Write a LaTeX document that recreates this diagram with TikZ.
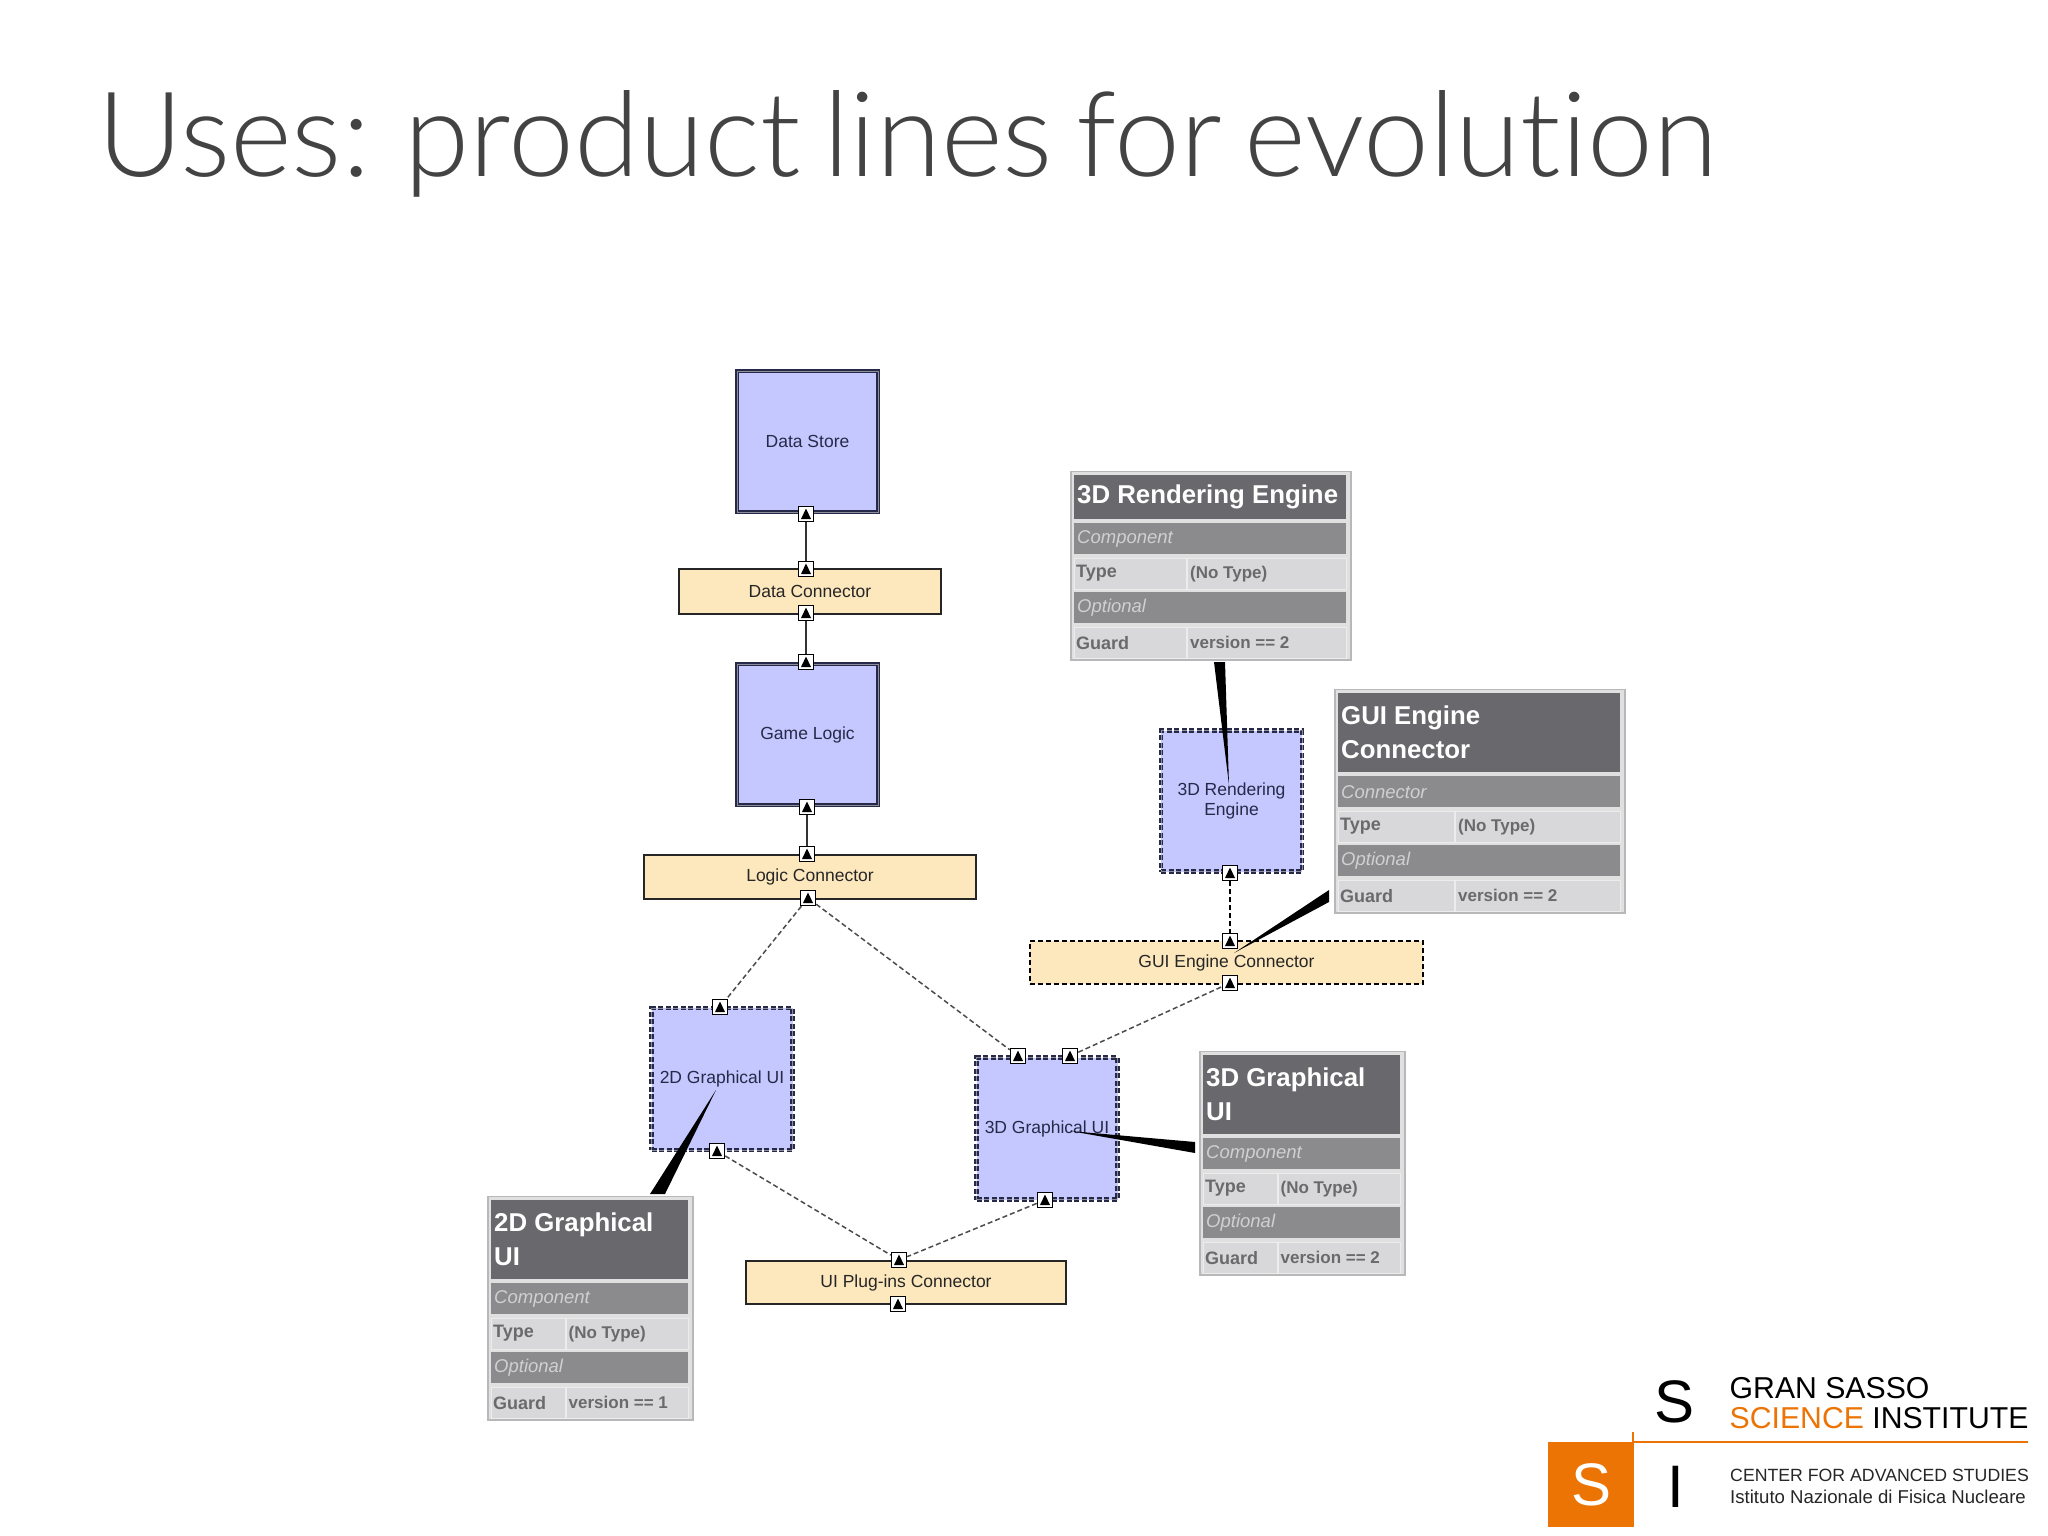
\documentclass[tikz,border=0pt]{standalone}
\usepackage{fontspec}
\setmainfont{Liberation Sans}
\newfontfamily\titlefnt[WordSpace=0.72,Ligatures=NoCommon]{Lato Light}
\usetikzlibrary{calc}
\definecolor{boxblue}{HTML}{C4C8FF}
\definecolor{boxcream}{HTML}{FDE8BD}
\definecolor{boxedge}{HTML}{262A48}
\definecolor{titlegrey}{HTML}{434343}
\definecolor{ssiorange}{HTML}{EC7405}
\definecolor{hdrgrey}{HTML}{69696D}
\definecolor{secgrey}{HTML}{8B8B8D}
\definecolor{cellgrey}{HTML}{D8D8DA}
\definecolor{tabedge}{HTML}{B8B8BA}
\definecolor{rowtext}{HTML}{6A6A6C}
\definecolor{sectext}{HTML}{D0D0D2}
\newcommand{\fs}[1]{\fontsize{#1}{#1}\selectfont}
\tikzset{
  solidbox/.style={draw=boxedge,fill=boxblue,line width=1.8pt,double=gray!80!boxblue,double distance=1pt,inner sep=0,align=center,font=\fs{17.5},text=boxedge},
  dashbox/.style={solidbox,dash pattern=on 5pt off 2.5pt},
  connbox/.style={draw=black!85,fill=boxcream,line width=1.6pt,inner sep=0,align=center,font=\fs{17.5},text=black!85},
  dashconn/.style={connbox,draw=black,line width=2pt,dash pattern=on 5pt off 3pt},
  portbox/.style={draw=black,fill=white,line width=1.5pt,minimum size=15pt,inner sep=0,
    path picture={\fill[black] ($(path picture bounding box.south west)+(2.5pt,2.5pt)$) -- ($(path picture bounding box.south east)+(-2.5pt,2.5pt)$) -- ($(path picture bounding box.north)+(0,-2pt)$) -- cycle;}},
  wire/.style={draw=black!80,line width=1.5pt},
  dashwire/.style={draw=black!70,line width=1.5pt,dash pattern=on 5pt off 3pt},
  wedge/.style={fill=black},
  tableframe/.style={draw=tabedge,fill=cellgrey!80!white,line width=1.6pt,anchor=north west,inner sep=0},
  hdrcell/.style={fill=hdrgrey,anchor=north west,inner sep=0},
  seccell/.style={fill=secgrey,anchor=north west,inner sep=0},
  valcell/.style={fill=cellgrey,draw=white!85!gray,line width=1pt,anchor=north west,inner sep=0},
  hdrtext/.style={anchor=west,inner sep=0,text=white,align=left,font=\fs{25.8}\bfseries},
  sectxt/.style={anchor=west,inner sep=0,text=sectext,font=\fs{18.5}\itshape},
  rowtxt/.style={anchor=west,inner sep=0,text=rowtext,font=\fs{18}\bfseries},
  valtxt/.style={anchor=west,inner sep=0,text=rowtext,font=\fs{17}\bfseries},
  logotext/.style={anchor=base west,inner sep=0},
}
% prefix, x, y, width, height of the header, title, kind, first column width, guard
\newcommand{\proptable}[9]{%
  \def\tx{#2}\def\ty{#3}\def\tw{#4}\def\th{#5}\def\cw{#8}%
  \pgfmathsetmacro{\ta}{\ty+4+\th+4}%
  \pgfmathsetmacro{\tb}{\ta+34.6}%
  \pgfmathsetmacro{\tc}{\tb+34.6}%
  \pgfmathsetmacro{\td}{\tc+34.6}%
  \node[tableframe,minimum width=\tw pt,minimum height=\td-\ty+32.5pt] (#1frame) at (\tx,\ty) {};
  \node[hdrcell,minimum width=\tw pt-8pt,minimum height=\th pt] (#1hdr) at (\tx+4,\ty+4) {};
  \node[hdrtext] (#1title) at ($(#1hdr.west)+(3pt,0)$) {#6};
  \node[seccell,minimum width=\tw pt-8pt,minimum height=31pt] (#1sec) at (\tx+4,\ta) {};
  \node[sectxt] (#1kind) at ($(#1sec.west)+(3pt,0)$) {#7};
  \node[valcell,minimum width=\cw pt,minimum height=31pt] (#1ta) at (\tx+4,\tb) {};
  \node[rowtxt] (#1tat) at ($(#1ta.west)+(2pt,0)$) {Type};
  \node[valcell,minimum width=\tw pt-\cw pt-9pt,minimum height=31pt] (#1tb) at (\tx+\cw+5,\tb) {};
  \node[valtxt] (#1tbt) at ($(#1tb.west)+(3pt,0)$) {(No Type)};
  \node[seccell,minimum width=\tw pt-8pt,minimum height=31pt] (#1opt) at (\tx+4,\tc) {};
  \node[sectxt] (#1optt) at ($(#1opt.west)+(3pt,0)$) {Optional};
  \node[valcell,minimum width=\cw pt,minimum height=31pt] (#1ga) at (\tx+4,\td) {};
  \node[rowtxt] (#1gat) at ($(#1ga.west)+(2pt,0)$) {Guard};
  \node[valcell,minimum width=\tw pt-\cw pt-9pt,minimum height=31pt] (#1gb) at (\tx+\cw+5,\td) {};
  \node[valtxt] (#1gbt) at ($(#1gb.west)+(3pt,0)$) {#9};
}
\begin{document}
\begin{tikzpicture}[x=1pt,y=-1pt]
\useasboundingbox[fill=white] (0,0) rectangle (2048,1536);
% title
\node[anchor=base west,inner sep=0,text=titlegrey,font={\titlefnt\fs{118.2}}] (title) at (97,176) {Uses: product lines for evolution};
% boxes
\node[solidbox,minimum width=141pt,minimum height=141pt] (store) at (807.5,441.5) {Data Store};
\node[connbox,minimum width=262pt,minimum height=45pt] (dconn) at (810,591.5) {Data Connector};
\node[solidbox,minimum width=141pt,minimum height=141pt] (logic) at (807.5,734.5) {Game Logic};
\node[connbox,minimum width=332pt,minimum height=44pt] (lconn) at (810,877) {Logic Connector};
\node[dashbox,minimum width=141pt,minimum height=142pt] (ui2d) at (722,1079) {2D Graphical UI};
\node[dashbox,minimum width=141pt,minimum height=142pt] (ui3d) at (1047,1128.5) {3D Graphical UI};
\node[dashbox,minimum width=141pt,minimum height=141pt] (rend) at (1231.5,801) {3D Rendering\\[2pt]Engine};
\node[dashconn,minimum width=393pt,minimum height=43pt] (gconn) at (1226.5,962.5) {GUI Engine Connector};
\node[connbox,minimum width=320pt,minimum height=43pt] (pconn) at (906,1282.5) {UI Plug-ins Connector};
% ports
\node[portbox] (p1) at (806,514) {};
\node[portbox] (p2) at (806,569) {};
\node[portbox] (p3) at (806,613) {};
\node[portbox] (p4) at (806,662) {};
\node[portbox] (p5) at (807,807) {};
\node[portbox] (p6) at (807,854) {};
\node[portbox] (p7) at (808,898) {};
\node[portbox] (p8) at (720,1007) {};
\node[portbox] (p9) at (717,1151) {};
\node[portbox] (p10) at (1018,1056) {};
\node[portbox] (p11) at (1070,1056) {};
\node[portbox] (p12) at (1045,1200) {};
\node[portbox] (p13) at (899,1260) {};
\node[portbox] (p14) at (898,1304) {};
\node[portbox] (p15) at (1230,873) {};
\node[portbox] (p16) at (1230,941) {};
\node[portbox] (p17) at (1230,983) {};
% connectors
\draw[wire] (p1) -- (p2);
\draw[wire] (p3) -- (p4);
\draw[wire] (p5) -- (p6);
\draw[dashwire] (p7) -- (p8);
\draw[dashwire] (p7) -- (p10);
\draw[dashwire] (p11) -- (p17);
\draw[dashwire] (p9) -- (p13);
\draw[dashwire] (p12) -- (p13);
\draw[dashwire,draw=black,line width=1.2pt] (p15) -- (p16);
% property tables
\proptable{tr}{1070}{470.5}{280}{44.5}{3D Rendering Engine}{Component}{112}{version == 2}
\proptable{tg}{1334}{688.5}{290}{79.5}{GUI Engine\\[8pt]Connector}{Connector}{116}{version == 2}
\proptable{tu}{1199}{1050.5}{205}{79.5}{3D Graphical\\[8pt]UI}{Component}{73.5}{version == 2}
\proptable{td}{487}{1195.5}{205}{79.5}{2D Graphical\\[8pt]UI}{Component}{73.5}{version == 1}
% callout wedges
\coordinate (w1a) at (1214,662); \coordinate (w1b) at (1225,662); \coordinate (w1c) at (1229,785);
\fill[wedge] (w1a) -- (w1b) -- (w1c) -- cycle;
\coordinate (w2a) at (1329,890); \coordinate (w2b) at (1329,902); \coordinate (w2c) at (1234,953);
\fill[wedge] (w2a) -- (w2b) -- (w2c) -- cycle;
\coordinate (w3a) at (1195,1142); \coordinate (w3b) at (1195,1153); \coordinate (w3c) at (1070,1131);
\fill[wedge] (w3a) -- (w3b) -- (w3c) -- cycle;
\coordinate (w4a) at (650,1194); \coordinate (w4b) at (665,1194); \coordinate (w4c) at (716,1090);
\fill[wedge] (w4a) -- (w4b) -- (w4c) -- cycle;
% logo
\node[fill=ssiorange,minimum width=86pt,minimum height=85pt,anchor=north west,inner sep=0,text=white,font=\fs{60}] (ssq) at (1548,1442) {S};
\coordinate (rulea) at (1633,1432);
\coordinate (ruleb) at (1633,1442);
\coordinate (rulec) at (2028,1442);
\draw[ssiorange,line width=1.2pt] (rulea) -- (ruleb) -- (rulec);
\node[anchor=center,inner sep=0,font=\fs{60}] (ls) at (1674,1402) {S};
\node[anchor=center,inner sep=0,font=\fs{60}] (li) at (1676,1487) {I};
\node[logotext,font=\fs{30.2}] (l1) at (1729.5,1398) {GRAN SASSO};
\node[logotext,font=\fs{30.2}] (l2) at (1729.5,1428) {\textcolor{ssiorange}{SCIENCE} INSTITUTE};
\node[logotext,font=\fs{17.7},text=black!85] (l3) at (1730,1481) {CENTER FOR ADVANCED STUDIES};
\node[logotext,font=\fs{18.6},text=black!85] (l4) at (1730,1503) {Istituto Nazionale di Fisica Nucleare};
\end{tikzpicture}
\end{document}
